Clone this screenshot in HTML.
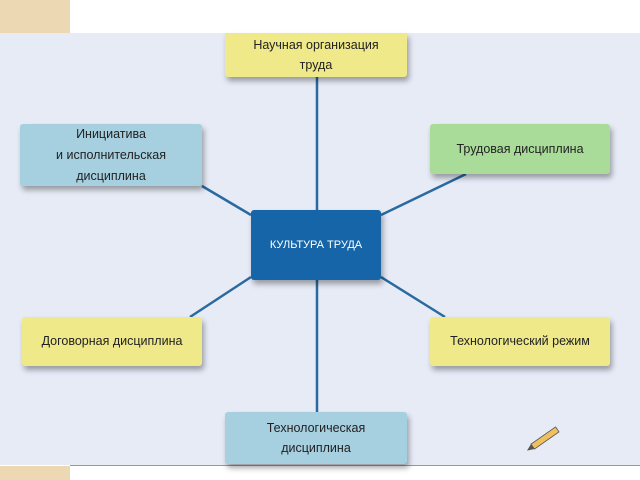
<!DOCTYPE html>
<html><head><meta charset="utf-8"><style>
body{margin:0;width:640px;height:480px;overflow:hidden;background:#fff;font-family:"Liberation Sans",sans-serif;position:relative}
.bg{position:absolute;left:0;top:33px;width:640px;height:432px;background:#e7ebf6}
.beige{position:absolute;left:0;width:70px;background:#ecd9b4}
.b{position:absolute;display:flex;align-items:center;justify-content:center;text-align:center;font-size:12.5px;line-height:21px;color:#222;border-radius:3px;box-shadow:2px 4px 6px rgba(0,0,0,0.35)}
.y{background:#efe98a}.bl{background:#a6cfe0}.g{background:#a9dc98}
</style></head><body>
<div class="beige" style="top:0;height:33px"></div>
<div class="bg"></div>
<div class="beige" style="top:466px;height:14px"></div>
<div style="position:absolute;left:70px;top:465px;width:570px;height:1px;background:#999"></div>
<svg style="position:absolute;left:0;top:0" width="640" height="480">
<g stroke="#2a6aa0" stroke-width="2.5" fill="none">
<line x1="317" y1="77" x2="317" y2="412"/>
<line x1="202" y1="186" x2="251" y2="215"/>
<line x1="466" y1="174" x2="381" y2="215"/>
<line x1="251" y1="277" x2="190" y2="317"/>
<line x1="381" y1="277" x2="445" y2="317"/>
</g>
<g transform="translate(545,438) rotate(-35)"><rect x="-15" y="-3" width="30" height="6" fill="#f0c060" stroke="#555" stroke-width="0.8"/><polygon points="-15,-3 -22,0 -15,3" fill="#555"/></g>
</svg>
<div class="b y" style="left:225px;top:33px;width:182px;height:44px;border-radius:0 0 3px 3px;line-height:20px">Научная организация<br>труда</div>
<div class="b bl" style="left:20px;top:124px;width:182px;height:62px">Инициатива<br>и исполнительская<br>дисциплина</div>
<div class="b g" style="left:430px;top:124px;width:180px;height:50px">Трудовая дисциплина</div>
<div class="b" style="left:251px;top:210px;width:130px;height:70px;background:#1565a8;color:#fff;font-size:11px">КУЛЬТУРА ТРУДА</div>
<div class="b y" style="left:22px;top:317px;width:180px;height:49px">Договорная дисциплина</div>
<div class="b y" style="left:430px;top:317px;width:180px;height:49px">Технологический режим</div>
<div class="b bl" style="left:225px;top:412px;width:182px;height:52px;line-height:20px">Технологическая<br>дисциплина</div>
</body></html>
